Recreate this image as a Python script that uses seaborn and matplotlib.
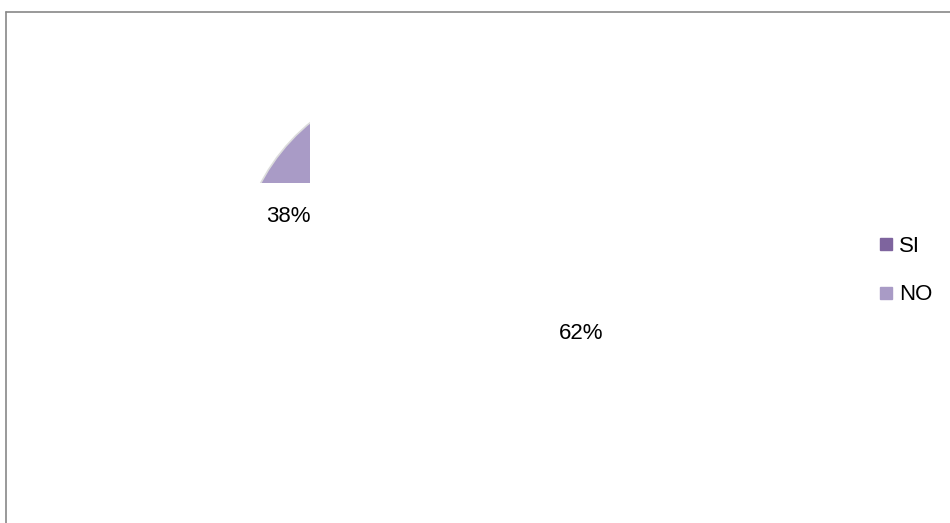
import matplotlib
matplotlib.use("Agg")
import matplotlib.pyplot as plt
import seaborn as sns
from matplotlib.patches import Rectangle
from matplotlib.lines import Line2D

# data
labels = ["SI", "NO"]
values = [62, 38]
colors = ["#7e649e", "#a99bc6"]

sns.set_theme(style="white")
plt.rcParams["font.family"] = ["Liberation Sans", "DejaVu Sans"]

fig = plt.figure(figsize=(9.5, 5.23), dpi=100)
ax = fig.add_axes([0, 0, 1, 1])

# pie, only a corner of it is drawn as in the original export
wedges, texts, autotexts = ax.pie(values, colors=colors, startangle=90, counterclock=False,
                                  center=(435, 248), radius=197, autopct="%1.0f%%",
                                  pctdistance=0.8, frame=True,
                                  wedgeprops=dict(edgecolor="#dcdcdc", linewidth=1.2),
                                  textprops=dict(fontsize=16, color="#000000"))
ax.set_xlim(0, 950)
ax.set_ylim(0, 523)
ax.axis("off")

clip = Rectangle((0, 340), 310, 183, transform=ax.transData)
for w in wedges:
    w.set_clip_on(True)
    w.set_clip_path(clip)

# outer frame
fig.add_artist(Line2D([6 / 950, 1], [511 / 523, 511 / 523], color="#878787", lw=1.2))
fig.add_artist(Line2D([6 / 950, 6 / 950], [0, 511 / 523], color="#878787", lw=1.2))

handles = [Line2D([], [], marker="s", linestyle="none", markersize=8.5,
                  markerfacecolor=c, markeredgecolor=c) for c in colors]
fig.legend(handles, labels, loc="upper left", bbox_to_anchor=(879 / 950, 1 - 236 / 523),
           frameon=False, fontsize=16, borderpad=0, borderaxespad=0, labelcolor="#000000",
           handlelength=0.6, handletextpad=0.3, labelspacing=1.23)

plt.savefig("out.png", dpi=100)
